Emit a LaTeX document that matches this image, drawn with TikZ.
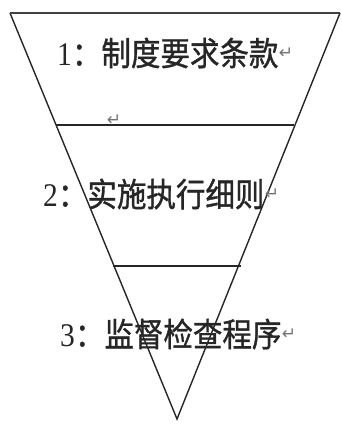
\documentclass[tikz,border=0pt]{standalone}
\usepackage{fontspec}
\setmainfont{Liberation Serif}
\newfontfamily\cjk[FakeBold=1.2]{Noto Sans CJK SC}
\newfontfamily\symf{DejaVu Sans}
\begin{document}
\begin{tikzpicture}[x=1pt,y=-1pt,
  edge/.style={draw=black!85,line width=1.4pt},
  topedge/.style={draw=black!75,line width=2.4pt},
  label/.style={anchor=west,inner sep=0pt,text=black!85,yscale=1.12,transform shape,font=\fontsize{29.5}{31}\selectfont},
  ret/.style={inner sep=0pt,text=black!55,font=\symf\fontsize{17}{17}\selectfont}]
\useasboundingbox (0,0) rectangle (341,424);
\coordinate (tl) at (10,13);
\coordinate (tr) at (340,13);
\coordinate (ap) at (177,419);
\coordinate (a1) at (56,125);
\coordinate (b1) at (294,125);
\coordinate (a2) at (113,266);
\coordinate (b2) at (241,266);
\draw[edge] (tl) -- (ap) -- (tr);
\draw[topedge] (tl) -- (tr);
\draw[edge] (a1) -- (b1);
\draw[edge] (a2) -- (b2);
\node[label] (t1) at (57,53) {1{\cjk ：制度要求条款}};
\node[ret,anchor=west] (r1) at (t1.east) {↵};
\node[ret] (r0) at (114,120) {↵};
\node[label] (t2) at (43,194) {2{\cjk ：实施执行细则}};
\node[ret,anchor=west] (r2) at (t2.east) {↵};
\node[label] (t3) at (60,334) {3{\cjk ：监督检查程序}};
\node[ret,anchor=west] (r3) at (t3.east) {↵};
\end{tikzpicture}
\end{document}
